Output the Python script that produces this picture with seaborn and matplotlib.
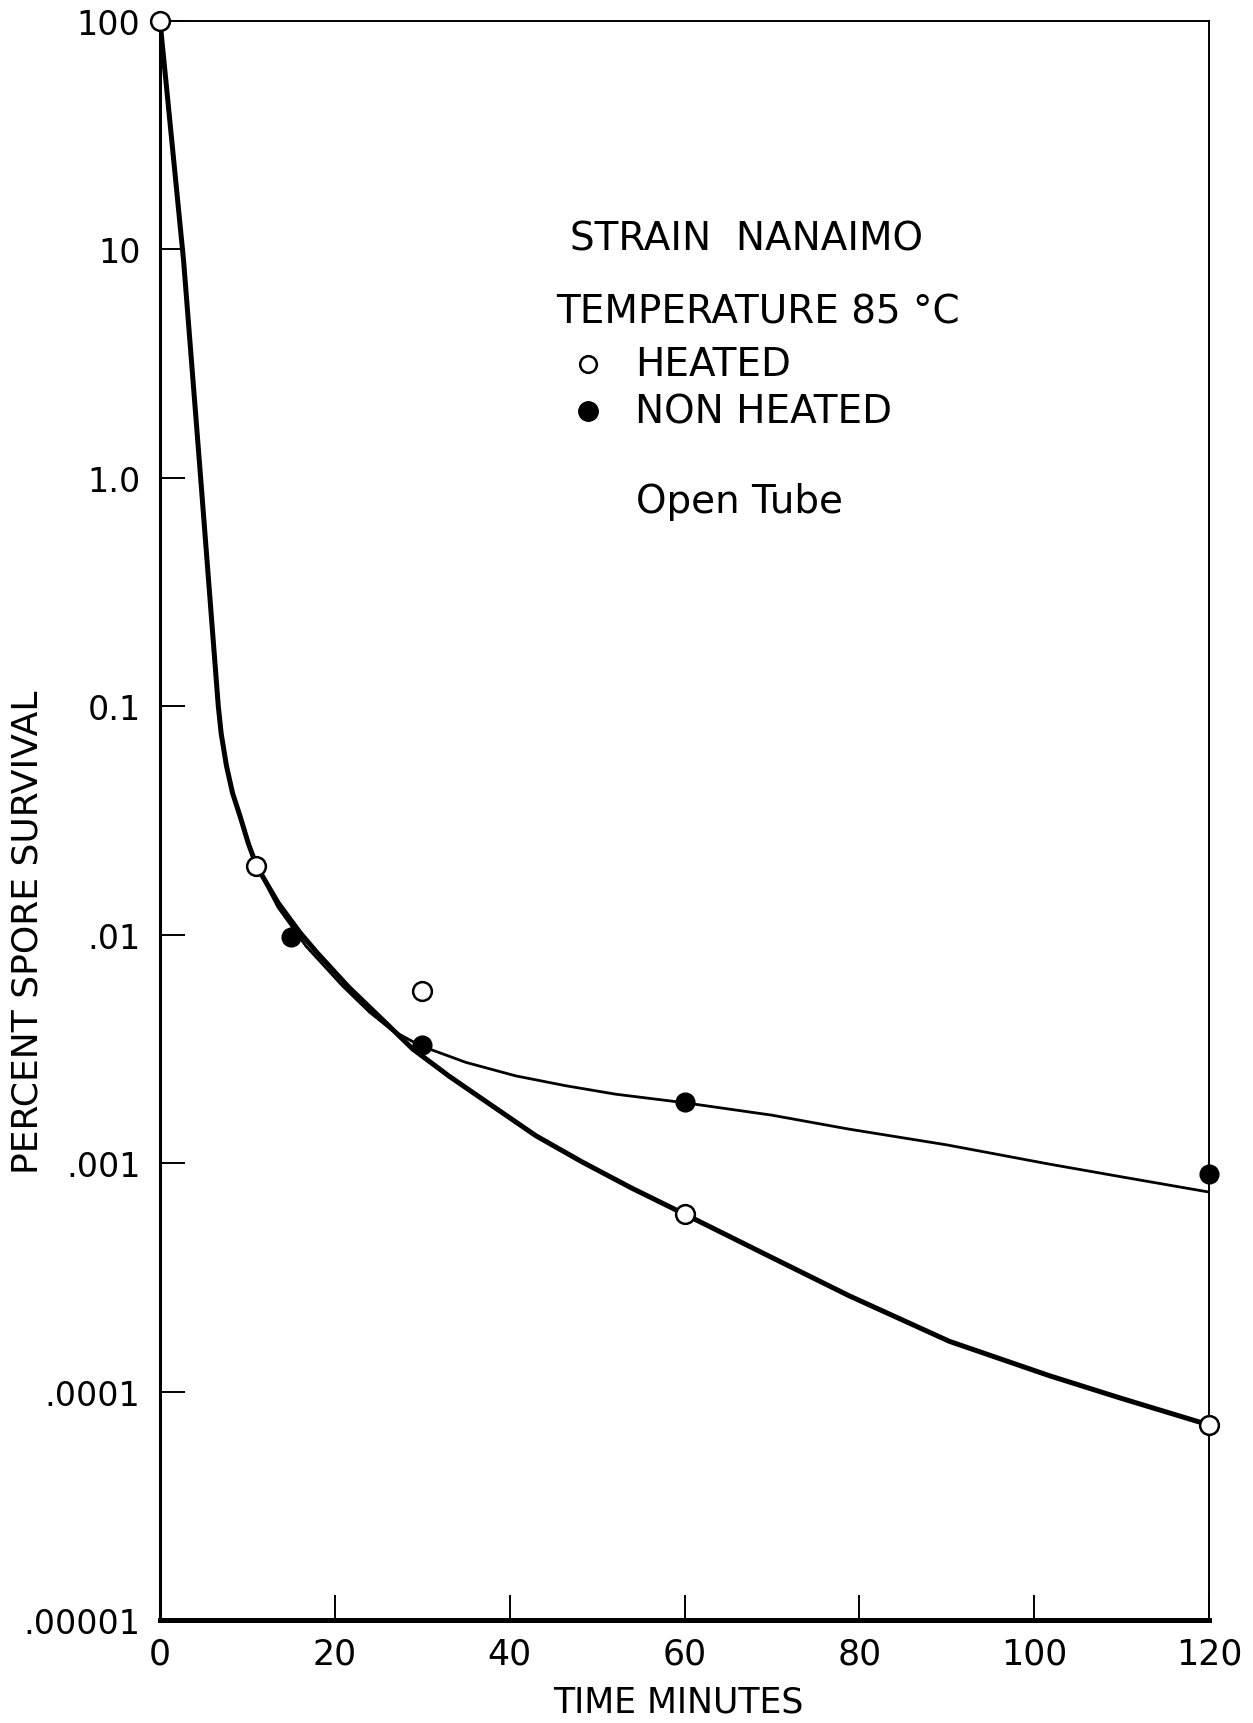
import numpy as np
import pandas as pd
import matplotlib
matplotlib.use("Agg")
import matplotlib.pyplot as plt
import matplotlib.ticker as mticker
from matplotlib.lines import Line2D
import seaborn as sns

# ---- measured data points (time in minutes, percent survival) ----
heated_t = [0, 11, 30, 60, 120]
heated_pct = [100, 0.0200, 0.00569, 0.000598, 0.0000715]

nonheated_t = [15, 30, 60, 120]
nonheated_pct = [0.0098, 0.00329, 0.00185, 0.00090]

# ---- fitted curves as drawn on the chart (log10 percent) ----
heated_curve_t = [0, 2.7, 4.65, 6.67, 7.0, 7.6, 8.3, 9.15, 10.1, 11.06, 13.5, 16.0,
                  18.0, 21.6, 25.4, 28.9, 33.1, 36.9, 43.0, 48.3, 54.0, 60.0, 69.3,
                  78.8, 90.3, 101.7, 110.0, 120.0]
heated_curve_log = [2.0, 0.95, 0.0, -1.0, -1.12, -1.26, -1.38, -1.48, -1.60, -1.70,
                    -1.86, -1.99, -2.08, -2.23, -2.37, -2.50, -2.62, -2.72, -2.88,
                    -2.995, -3.11, -3.223, -3.40, -3.58, -3.78, -3.93, -4.03, -4.146]

nonheated_curve_t = [11.06, 13.5, 16.7, 20.9, 24.0, 26.6, 29.8, 35.0, 40.7, 46.4,
                     52.1, 59.9, 70.0, 78.8, 90.0, 101.7, 110.0, 119.9]
nonheated_curve_log = [-1.70, -1.88, -2.05, -2.225, -2.34, -2.42, -2.486, -2.559,
                       -2.618, -2.661, -2.698, -2.735, -2.79, -2.851, -2.92, -3.004,
                       -3.06, -3.126]

y_ticks = [100, 10, 1.0, 0.1, 0.01, 0.001, 0.0001, 0.00001]
y_tick_labels = ["100", "10", "1.0", "0.1", ".01", ".001", ".0001", ".00001"]
x_ticks = [0, 20, 40, 60, 80, 100, 120]
x_tick_labels = ["0", "20", "40", "60", "80", "100", "120"]

sns.set_theme(style="white")
plt.rcParams["font.family"] = ["DejaVu Sans"]
plt.rcParams["text.color"] = "black"
plt.rcParams["axes.labelcolor"] = "black"

W, H = 1253, 1724
fig = plt.figure(figsize=(W / 100, H / 100), dpi=100)
ax = fig.add_axes([160 / W, 103 / H, 1049 / W, 1599 / H])

df_hc = pd.DataFrame({"t": heated_curve_t, "pct": 10 ** np.array(heated_curve_log)})
df_nc = pd.DataFrame({"t": nonheated_curve_t, "pct": 10 ** np.array(nonheated_curve_log)})
df_h = pd.DataFrame({"t": heated_t, "pct": heated_pct})
df_n = pd.DataFrame({"t": nonheated_t, "pct": nonheated_pct})

sns.lineplot(data=df_hc, x="t", y="pct", ax=ax, color="black", linewidth=3.6,
             sort=False, estimator=None)
sns.lineplot(data=df_nc, x="t", y="pct", ax=ax, color="black", linewidth=2.0,
             sort=False, estimator=None)
for line in ax.lines:
    line.set_solid_joinstyle("round")
    line.set_solid_capstyle("round")

ax.set_yscale("log")
ax.set_xlim(0, 120)
ax.set_ylim(1e-5, 100)

ax.plot(df_h["t"], df_h["pct"], linestyle="none", marker="o", markersize=13.5,
        markerfacecolor="white", markeredgecolor="black", markeredgewidth=1.8,
        clip_on=False, zorder=5)
ax.plot(df_n["t"], df_n["pct"], linestyle="none", marker="o", markersize=13.5,
        markerfacecolor="black", markeredgecolor="black", clip_on=False, zorder=5)

ax.set_yticks(y_ticks)
ax.set_yticklabels(y_tick_labels, fontsize=24)
ax.yaxis.set_minor_locator(mticker.NullLocator())
ax.set_xticks(x_ticks)
ax.set_xticklabels(x_tick_labels, fontsize=25)

ax.tick_params(axis="y", direction="in", length=18, width=1.4,
               pad=14, colors="black", left=True)
ax.tick_params(axis="x", direction="in", length=18, width=1.4,
               pad=12, colors="black", bottom=True)

for side, lw in [("bottom", 3.6), ("left", 2.2), ("top", 1.4), ("right", 1.4)]:
    ax.spines[side].set_visible(True)
    ax.spines[side].set_color("black")
    ax.spines[side].set_linewidth(lw)

ax.set_xlabel("TIME MINUTES", fontsize=25, color="black", va="center")
ax.set_ylabel("PERCENT SPORE SURVIVAL", fontsize=26, color="black", va="center")
ax.xaxis.set_label_coords((678 - 160) / 1049, (1621 - 1703) / 1599)
ax.yaxis.set_label_coords((28 - 160) / 1049, (1621 - 932) / 1599)


def fx(px):
    return px / W


def fy(py):
    return 1 - py / H


fs = 28
fig.text(fx(747), fy(240), "STRAIN  NANAIMO", fontsize=fs, ha="center", va="center")
fig.text(fx(758), fy(312), "TEMPERATURE 85 °C", fontsize=fs, ha="center", va="center")
fig.text(fx(635), fy(365), "HEATED", fontsize=fs, ha="left", va="center")
fig.text(fx(635), fy(412), "NON HEATED", fontsize=fs, ha="left", va="center")
fig.text(fx(740), fy(502), "Open Tube", fontsize=fs, ha="center", va="center")
fig.lines.append(Line2D([fx(588)], [fy(365)], transform=fig.transFigure,
                        marker="o", markersize=12, markerfacecolor="white",
                        markeredgecolor="black", markeredgewidth=1.8, linestyle="none"))
fig.lines.append(Line2D([fx(588)], [fy(412)], transform=fig.transFigure,
                        marker="o", markersize=14, markerfacecolor="black",
                        markeredgecolor="black", linestyle="none"))

fig.savefig("out.png", dpi=100, facecolor="white")
